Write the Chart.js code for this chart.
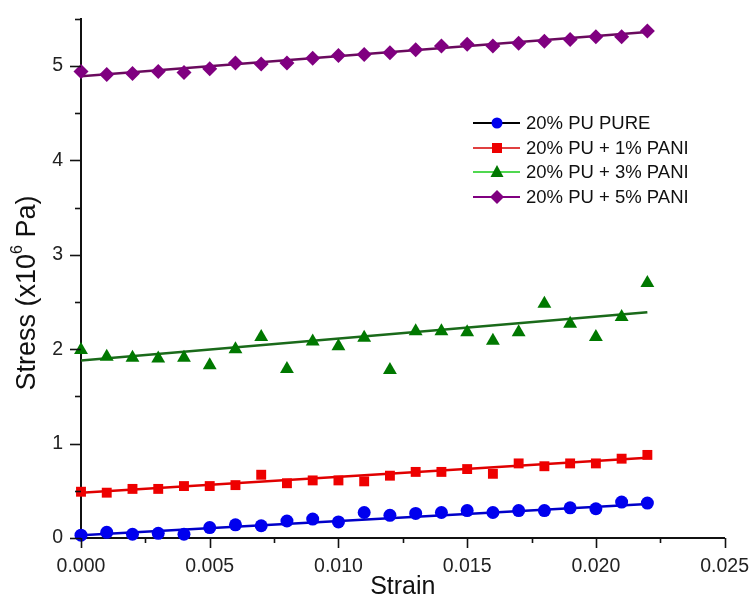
<!DOCTYPE html>
<html>
<head>
<meta charset="utf-8">
<script src="https://cdn.jsdelivr.net/npm/chart.js@4"></script>
<style>
html,body{margin:0;padding:0;background:#fff;}
#c{display:block;}
</style>
</head>
<body>
<canvas id="c" width="756" height="598"></canvas>
<script>
// ---- data ----
const strain = [0.000,0.001,0.002,0.003,0.004,0.005,0.006,0.007,0.008,0.009,0.010,0.011,0.012,0.013,0.014,0.015,0.016,0.017,0.018,0.019,0.020,0.021,0.022];
const puPure = [0.03,0.06,0.04,0.05,0.04,0.11,0.14,0.13,0.18,0.20,0.17,0.27,0.24,0.26,0.27,0.29,0.27,0.29,0.29,0.32,0.31,0.38,0.37];
const pani1  = [0.49,0.48,0.52,0.52,0.55,0.55,0.56,0.67,0.58,0.61,0.61,0.60,0.66,0.70,0.70,0.73,0.68,0.79,0.76,0.79,0.79,0.84,0.88];
const pani3  = [1.99,1.92,1.91,1.90,1.91,1.83,2.00,2.13,1.79,2.08,2.03,2.12,1.78,2.19,2.19,2.18,2.09,2.18,2.48,2.27,2.13,2.34,2.70];
const pani5  = [4.94,4.91,4.92,4.94,4.93,4.97,5.03,5.02,5.03,5.08,5.11,5.12,5.14,5.17,5.21,5.23,5.21,5.24,5.26,5.28,5.31,5.31,5.37];
// linear fit lines (end points)
const fitX    = [0.000, 0.022];
const fitPure = [0.03, 0.36];
const fit1    = [0.48, 0.85];
const fit3    = [1.88, 2.39];
const fit5    = [4.89, 5.36];
const seriesNames = ['20% PU PURE','20% PU + 1% PANI','20% PU + 3% PANI','20% PU + 5% PANI'];
const xTickLabels = ['0.000','0.005','0.010','0.015','0.020','0.025'];
const yTickLabels = ['0','1','2','3','4','5'];

const pts = (xs, ys) => xs.map((x,i)=>({x:x, y:ys[i]}));

const markerColors = ['#0000ee','#ee0000','#007800','#800080'];
const fitColors    = ['#0000c8','#e00000','#1a6a1a','#6a0a5e'];
const legendLineColors = ['#000000','#e04040','#50d850','#800080'];
const styles = ['circle','rect','triangle','rectRot'];
const radii  = [6.5,7,8,7.5];
const values = [puPure,pani1,pani3,pani5];
const fits   = [fitPure,fit1,fit3,fit5];

const datasets = [];
for (let i=0;i<4;i++){
  datasets.push({
    label: seriesNames[i]+' fit', data: pts(fitX, fits[i]), showLine:true,
    borderColor: fitColors[i], borderWidth: 2.5, pointRadius:0, order: 10+i
  });
}
for (let i=0;i<4;i++){
  datasets.push({
    label: seriesNames[i], data: pts(strain, values[i]), showLine:false, clip:false,
    pointStyle: styles[i], pointRadius: radii[i], pointBackgroundColor: markerColors[i],
    pointBorderColor: markerColors[i], pointBorderWidth: 0, order: i
  });
}

const FONT = '"Liberation Sans", Arial, Helvetica, sans-serif';

const decor = {
  id:'decor',
  afterDraw(chart){
    const ctx = chart.ctx, xs = chart.scales.x, ys = chart.scales.y;
    ctx.save();
    // ticks
    ctx.strokeStyle = '#111'; ctx.lineWidth = 1.6;
    ys.ticks.forEach((t,i)=>{
      const y = Math.round(ys.getPixelForValue(t.value))+0.5;
      const len = (i%2===0)?11:6;
      ctx.beginPath(); ctx.moveTo(xs.left-len, y); ctx.lineTo(xs.left, y); ctx.stroke();
    });
    xs.ticks.forEach((t,i)=>{
      const x = Math.round(xs.getPixelForValue(t.value))+0.5;
      const len = (i%2===0)?10:5;
      ctx.beginPath(); ctx.moveTo(x, ys.bottom); ctx.lineTo(x, ys.bottom+len); ctx.stroke();
    });
    // x title
    ctx.fillStyle = '#111';
    ctx.font = '25px '+FONT;
    ctx.textAlign = 'center'; ctx.textBaseline = 'middle';
    ctx.fillText('Strain', (xs.left+xs.right)/2, 587);
    // y title with superscript
    ctx.translate(26, 293); ctx.rotate(-Math.PI/2);
    const big = '27px '+FONT, small = '16px '+FONT;
    const p1 = 'Stress (x10', p2 = '6', p3 = ' Pa)';
    ctx.font = big; const w1 = ctx.measureText(p1).width, w3 = ctx.measureText(p3).width;
    ctx.font = small; const w2 = ctx.measureText(p2).width;
    let x0 = -(w1+w2+w3)/2;
    ctx.textAlign = 'left'; ctx.textBaseline = 'alphabetic';
    ctx.font = big; ctx.fillText(p1, x0, 9);
    ctx.font = small; ctx.fillText(p2, x0+w1, -4);
    ctx.font = big; ctx.fillText(p3, x0+w1+w2, 9);
    ctx.setTransform(1,0,0,1,0,0);
    // legend
    const rows = [123,148,172,197];
    for (let i=0;i<4;i++){
      const y = rows[i];
      ctx.strokeStyle = legendLineColors[i]; ctx.lineWidth = 2;
      ctx.beginPath(); ctx.moveTo(473,y); ctx.lineTo(520,y); ctx.stroke();
      ctx.fillStyle = markerColors[i];
      const cx = 497;
      ctx.beginPath();
      if (i===0){ ctx.arc(cx,y,5.5,0,Math.PI*2); }
      else if (i===1){ ctx.rect(cx-5,y-5,10,10); }
      else if (i===2){ ctx.moveTo(cx,y-7); ctx.lineTo(cx+6.5,y+5); ctx.lineTo(cx-6.5,y+5); ctx.closePath(); }
      else { ctx.moveTo(cx,y-7); ctx.lineTo(cx+7,y); ctx.lineTo(cx,y+7); ctx.lineTo(cx-7,y); ctx.closePath(); }
      ctx.fill();
      ctx.fillStyle = '#111'; ctx.font = '18.5px '+FONT;
      ctx.textAlign = 'left'; ctx.textBaseline = 'middle';
      ctx.fillText(seriesNames[i], 526, y+1);
    }
    ctx.restore();
  }
};

new Chart(document.getElementById('c'), {
  type: 'scatter',
  data: { datasets },
  options: {
    responsive:false, animation:false,
    layout:{ padding:{ top:15, right:30, left:0, bottom:0 } },
    plugins:{ legend:{display:false}, tooltip:{enabled:false} },
    scales:{
      x:{
        type:'linear', min:0, max:0.025,
        afterFit(s){ s.height = 60; },
        grid:{ display:true, drawOnChartArea:false, drawTicks:true, tickLength:10, tickColor:'rgba(0,0,0,0)' },
        border:{ display:true, color:'#111', width:2 },
        ticks:{
          stepSize:0.0025, autoSkip:false, maxRotation:0, padding:7,
          color:'#222', font:{ family:FONT, size:19.5 },
          callback:(v,i)=> (i%2===0) ? xTickLabels[i/2] : ''
        }
      },
      y:{
        type:'linear', min:0, max:5.5,
        afterFit(s){ s.width = 81; },
        grid:{ display:true, drawOnChartArea:false, drawTicks:true, tickLength:11, tickColor:'rgba(0,0,0,0)' },
        border:{ display:true, color:'#111', width:2 },
        ticks:{
          stepSize:0.5, autoSkip:false, padding:7,
          color:'#222', font:{ family:FONT, size:19.5 },
          callback:(v,i)=> (i%2===0) ? yTickLabels[i/2] : ''
        }
      }
    }
  },
  plugins:[decor]
});
</script>
</body>
</html>
